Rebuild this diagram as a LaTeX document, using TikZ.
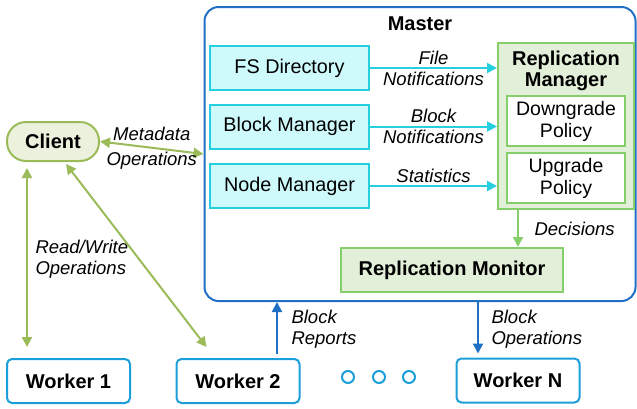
\documentclass[tikz,border=0pt]{standalone}
\usepackage{fontspec}
\setmainfont{Liberation Sans}
\usetikzlibrary{arrows.meta}
\usetikzlibrary{calc}
\definecolor{masterblue}{RGB}{31,111,196}
\definecolor{workerblue}{RGB}{28,158,218}
\definecolor{cyanline}{RGB}{36,208,224}
\definecolor{cyanfill}{RGB}{206,250,252}
\definecolor{clientgreen}{RGB}{155,187,89}
\definecolor{clientfill}{RGB}{236,241,222}
\definecolor{replgreen}{RGB}{134,206,106}
\definecolor{replfill}{RGB}{226,240,217}
\tikzset{
  boxfont/.style={font=\fontsize{19.8}{22}\selectfont},
  boldfont/.style={font=\fontsize{20}{21}\selectfont\bfseries},
  lblfont/.style={font=\fontsize{18.5}{21}\selectfont\itshape},
  mgrbox/.style={boxfont, draw=cyanline, fill=cyanfill, line width=2pt, minimum width=159pt, minimum height=44pt},
  policybox/.style={boxfont, font=\fontsize{19.5}{22}\selectfont, draw=replgreen, fill=white, line width=2pt, minimum width=118pt, minimum height=50pt, align=center},
  workerbox/.style={boldfont, draw=workerblue, fill=white, line width=2pt, rounded corners=5pt, minimum width=123pt, minimum height=44pt},
  tip/.style={-{Triangle[length=10pt,width=10pt]}},
  twotip/.style={{Triangle[length=10pt,width=10pt]}-{Triangle[length=10pt,width=10pt]}}
}

\begin{document}
\begin{tikzpicture}[x=1pt,y=-1pt]
\useasboundingbox (0,0) rectangle (637,408);
% master
\node[draw=masterblue, line width=2pt, rounded corners=14pt, minimum width=431pt, minimum height=294pt] (master) at (420,154) {};
\node[boldfont] (mastertitle) at (420,24) {Master};
% managers
\node[mgrbox] (fsdir) at (289.5,68) {FS Directory};
\node[mgrbox] (blockmgr) at (289.5,126.5) {Block Manager};
\node[mgrbox] (nodemgr) at (289.5,186) {Node Manager};
% replication manager
\node[draw=replgreen, fill=replfill, line width=2pt, minimum width=136pt, minimum height=166pt] (replmgr) at (566,126) {};
\node[boldfont, align=center] (repltitle) at (566,70.5) {Replication\\Manager};
\node[policybox] (downgrade) at (566,121) {Downgrade\\Policy};
\node[policybox] (upgrade) at (566,178) {Upgrade\\Policy};
\node[boldfont, draw=replgreen, fill=replfill, line width=2pt, minimum width=222pt, minimum height=44pt] (monitor) at (452,270) {Replication Monitor};
% client and workers
\node[boldfont, draw=clientgreen, fill=clientfill, line width=2pt, rounded corners=19pt, minimum width=92pt, minimum height=39pt] (client) at (53,141.5) {Client};
\node[workerbox] (worker1) at (68.5,381) {Worker 1};
\node[workerbox] (worker2) at (238,381) {Worker 2};
\node[workerbox] (workerN) at (518,380.5) {Worker N};
\foreach \x/\n in {348/d1,379/d2,409/d3}
  \node[draw=workerblue, line width=2pt, circle, minimum size=12pt, inner sep=0pt] (\n) at (\x,377) {};
% notifications
\draw[tip, cyanline, line width=2pt] (fsdir.east) -- (fsdir.east -| replmgr.west)
  node[midway, lblfont, text=black, align=center] (filelbl) {File\\Notifications};
\draw[tip, cyanline, line width=2pt] (blockmgr.east) -- (blockmgr.east -| replmgr.west)
  node[midway, lblfont, text=black, align=center] (blocklbl) {Block\\Notifications};
\draw[tip, cyanline, line width=2pt] (nodemgr.east) -- (nodemgr.east -| replmgr.west)
  node[midway, above, inner sep=2pt, lblfont, text=black] (statlbl) {Statistics};
% decisions
\coordinate (dec) at (518,0);
\draw[tip, replgreen, line width=2pt] (replmgr.south -| dec) -- (monitor.north -| dec);
\node[lblfont, anchor=west] (declbl) at (531,229) {Decisions};
% client links
\draw[twotip, clientgreen, line width=2pt] (client.east) -- (master.west)
  node[midway, lblfont, text=black, align=center] (metalbl) {Metadata\\[4pt]Operations};
\coordinate (rw) at (27,0);
\draw[twotip, clientgreen, line width=2pt, shorten <=6pt, shorten >=11pt] (client.south -| rw) -- (worker1.north -| rw);
\node[lblfont, anchor=west, align=left] (rwlbl) at (32,259.5) {Read/Write\\Operations};
\draw[twotip, clientgreen, line width=2pt] ($(client.south)+(13,2)$) -- ($(worker2.north west)+(31,-11)$);
% block reports and operations
\coordinate (rep) at (277,0);
\coordinate (ops) at (478,0);
\draw[tip, masterblue, line width=2pt, shorten <=4pt] (worker2.north -| rep) -- (master.south -| rep);
\node[lblfont, anchor=west, align=left] (replbl) at (288,329) {Block\\Reports};
\draw[tip, masterblue, line width=2pt, shorten >=4pt] (master.south -| ops) -- (workerN.north -| ops);
\node[lblfont, anchor=west, align=left] (opslbl) at (488,329) {Block\\Operations};
\end{tikzpicture}
\end{document}
